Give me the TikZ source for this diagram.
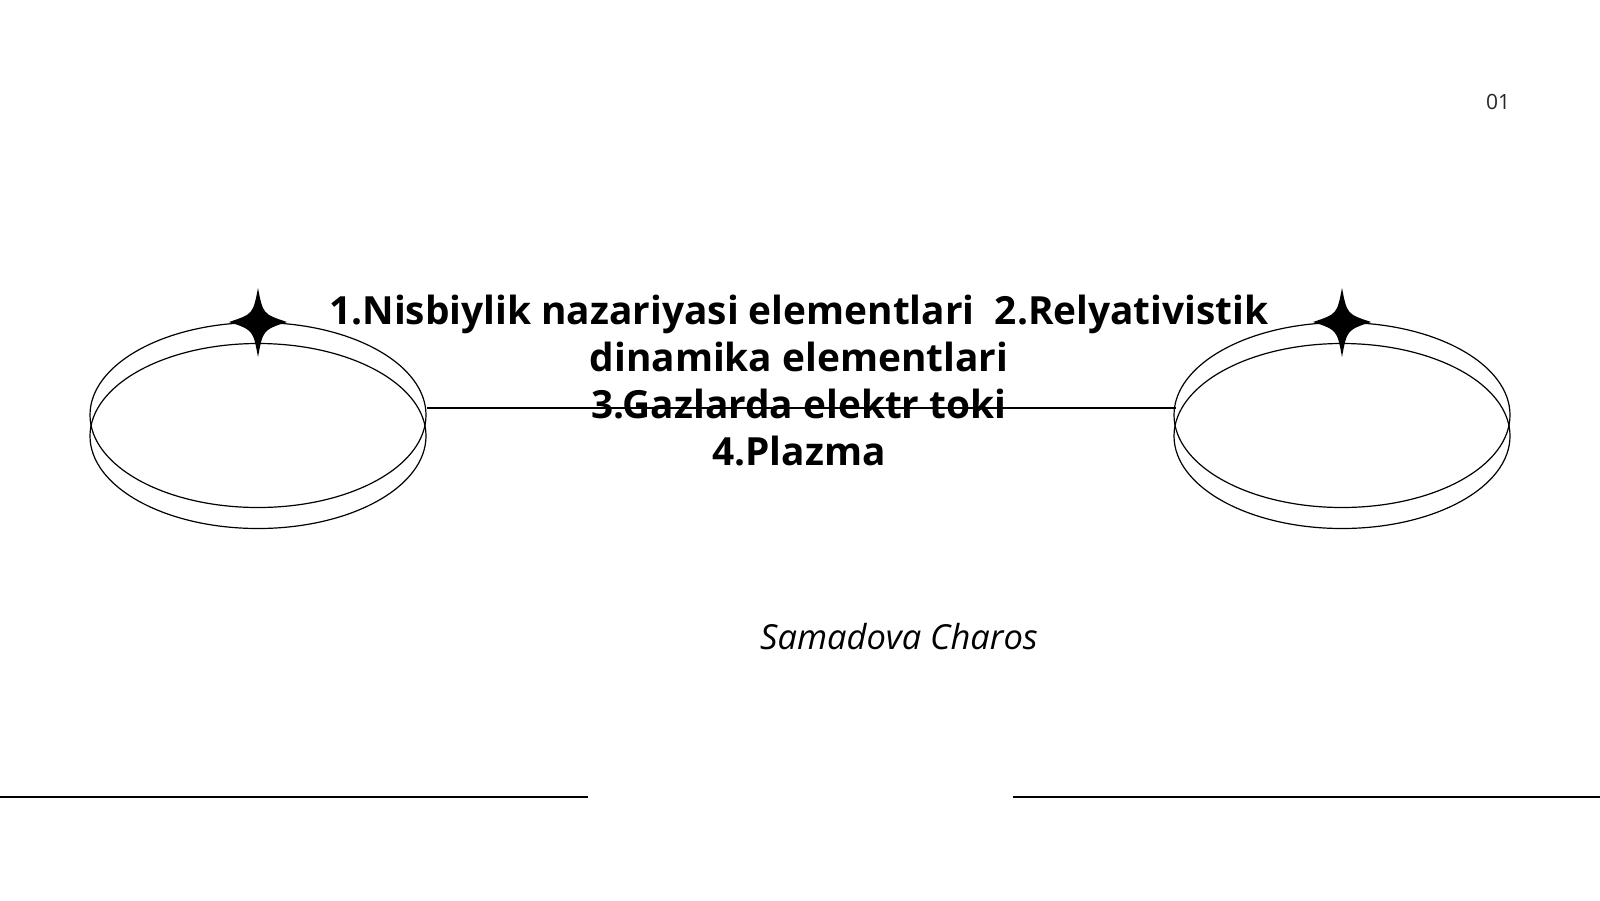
\documentclass[tikz,border=0pt]{standalone}
\usepackage{fontspec}
\setmainfont{Open Sans}
\begin{document}
\begin{tikzpicture}[x=1pt,y=-1pt,
  ring/.style={draw=black,line width=1.2pt},
  ln/.style={draw=black,line width=1.3pt},
  star/.style={fill=black}]
\useasboundingbox (0,0) rectangle (1600,900);
\foreach \cx/\nm in {258/L,1342/R}{
  \draw[ring] (\cx,415) ellipse [x radius=168,y radius=92.5];
  \draw[ring] (\cx,436) ellipse [x radius=168,y radius=92.5];
  \fill[star] (\cx,288) .. controls (\cx+5,314) .. (\cx+29,322)
     .. controls (\cx+5,330) .. (\cx,357)
     .. controls (\cx-5,330) .. (\cx-29,322)
     .. controls (\cx-5,314) .. (\cx,288) -- cycle;
}
\coordinate (a) at (427,408);
\coordinate (b) at (1176,408);
\draw[line width=1.2pt] (a) -- (b);
\node[align=center,font=\bfseries\fontsize{38.8}{47}\selectfont,inner sep=0] (t) at (799,381)
 {1.Nisbiylik nazariyasi elementlari\ \ 2.Relyativistik\\dinamika elementlari\\3.Gazlarda elektr toki\\4.Plazma};
\node[font=\itshape\fontsize{34.5}{40}\selectfont] (au) at (899,637) {Samadova Charos};
\node[font=\fontsize{21}{24}\selectfont,text=black!85] (pg) at (1498,102) {01};
\coordinate (l1) at (0,797); \coordinate (l2) at (588,797);
\coordinate (r1) at (1013,797); \coordinate (r2) at (1600,797);
\draw[ln] (l1) -- (l2);
\draw[ln] (r1) -- (r2);
\end{tikzpicture}
\end{document}
